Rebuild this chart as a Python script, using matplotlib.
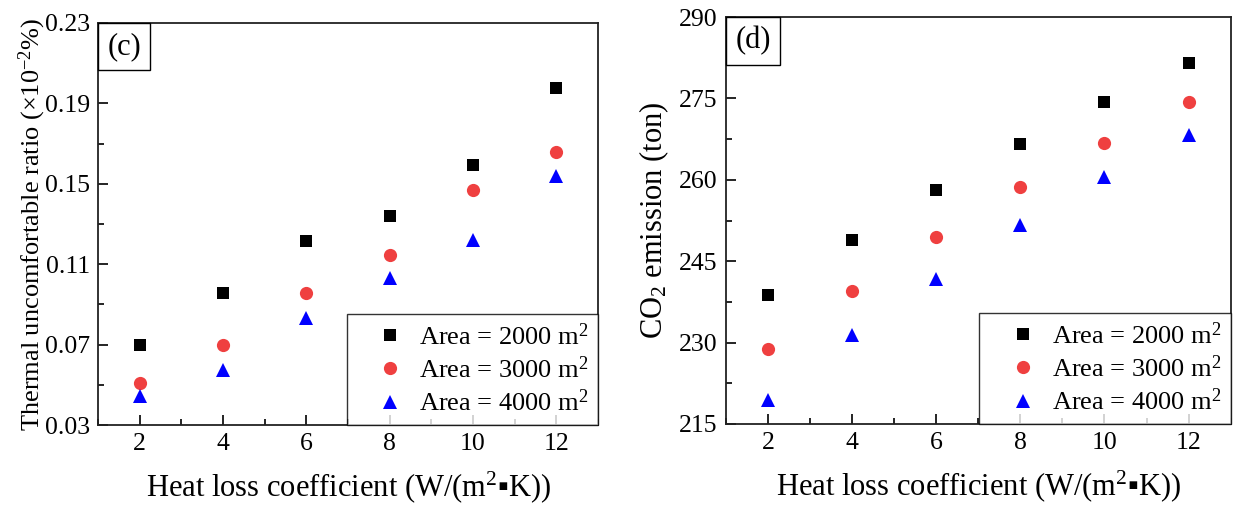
import matplotlib
matplotlib.use("Agg")
import matplotlib.pyplot as plt
from matplotlib.ticker import FixedLocator, MultipleLocator, FormatStrFormatter

plt.rcParams['font.family'] = ['Liberation Serif', 'DejaVu Serif']
plt.rcParams['mathtext.fontset'] = 'custom'
plt.rcParams['mathtext.rm'] = 'Liberation Serif'
plt.rcParams['mathtext.it'] = 'Liberation Serif:italic'

# data
hlc = [2, 4, 6, 8, 10, 12]
labels = ['Area = 2000 m$^2$', 'Area = 3000 m$^2$', 'Area = 4000 m$^2$']

ratio_2000 = [0.0698, 0.0955, 0.1215, 0.1338, 0.1594, 0.1978]
ratio_3000 = [0.0507, 0.0698, 0.0957, 0.1146, 0.1468, 0.1660]
ratio_4000 = [0.0446, 0.0574, 0.0831, 0.1031, 0.1220, 0.1539]
ratio_ticks = [0.03, 0.07, 0.11, 0.15, 0.19, 0.23]

co2_2000 = [238.8, 249.0, 258.1, 266.6, 274.3, 281.5]
co2_3000 = [228.8, 239.6, 249.5, 258.6, 266.8, 274.4]
co2_4000 = [219.4, 231.4, 241.8, 251.7, 260.5, 268.3]
co2_ticks = [215, 230, 245, 260, 275, 290]

markers = ['s', 'o', '^']
colors = ['black', '#EF4040', '#0000FF']
sizes = [8.5, 9.5, 10.5]

fig = plt.figure(figsize=(12.33, 5.05), dpi=100)
ax1 = fig.add_axes([0.0795, 0.1584, 0.4055, 0.7961])
ax2 = fig.add_axes([0.5888, 0.1604, 0.4093, 0.8059])

xlabel = 'Heat loss coefficient (W/(m$^2$\u25aaK))'


def style(ax, tag, series, yticks, yfmt, ylabel, ylsize, ylpad):
    for ys, m, c, s, lab in zip(series, markers, colors, sizes, labels):
        ax.plot(hlc, ys, linestyle='none', marker=m, color=c, markersize=s,
                markeredgewidth=0, label=lab)
    ax.set_xlim(1, 13)
    ax.set_ylim(yticks[0], yticks[-1])
    ax.xaxis.set_major_locator(MultipleLocator(2))
    ax.xaxis.set_minor_locator(MultipleLocator(1))
    step = yticks[1] - yticks[0]
    ax.yaxis.set_major_locator(FixedLocator(yticks))
    ax.yaxis.set_minor_locator(FixedLocator([t + step / 2 for t in yticks[:-1]]))
    ax.yaxis.set_major_formatter(FormatStrFormatter(yfmt))
    ax.tick_params(which='both', direction='in', top=False, right=False,
                   labelsize=18.5, width=1.2)
    ax.tick_params(which='major', length=7, pad=6)
    ax.tick_params(which='minor', length=4)
    for sp in ax.spines.values():
        sp.set_linewidth(1.3)
        sp.set_color('#222222')
    ax.set_xlabel(xlabel, fontsize=22, labelpad=10)
    ax.set_ylabel(ylabel, fontsize=ylsize, labelpad=ylpad)
    # panel tag in a square box sitting in the upper left corner
    pad = 0.3 * 22
    ax.annotate(tag, xy=(0, 1), xycoords='axes fraction',
                xytext=(pad, -pad), textcoords='offset points',
                ha='left', va='top', fontsize=22,
                bbox=dict(boxstyle='square,pad=0.3', facecolor='white',
                          edgecolor='black', linewidth=1.0))
    leg = ax.legend(loc='lower right', fontsize=19, frameon=True,
                    fancybox=False, borderaxespad=0, handletextpad=-0.2,
                    handlelength=2.6, labelspacing=0.25, borderpad=0.35)
    leg.get_frame().set_edgecolor('black')
    leg.get_frame().set_linewidth(1.0)


style(ax1, '(c)', [ratio_2000, ratio_3000, ratio_4000], ratio_ticks,
      '%.2f', 'Thermal uncomfortable ratio (\u00d710$^{-2}$%)', 19, -2.5)
style(ax2, '(d)', [co2_2000, co2_3000, co2_4000], co2_ticks,
      '%d', 'CO$_2$ emission (ton)', 22, 6)

fig.savefig('out.png', dpi=100)
